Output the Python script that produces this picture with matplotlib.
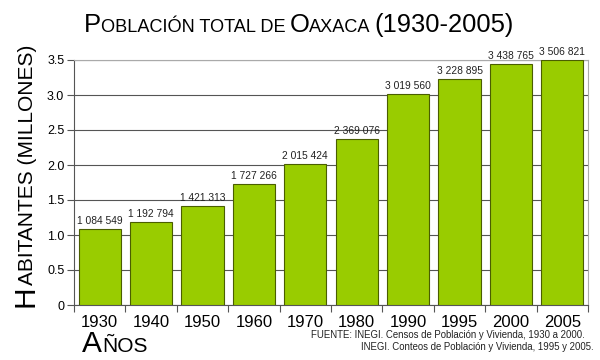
import matplotlib
matplotlib.use("Agg")
import matplotlib.pyplot as plt
import numpy as np

plt.rcParams['font.family'] = ['Liberation Sans', 'DejaVu Sans']

years = ["1930", "1940", "1950", "1960", "1970", "1980", "1990", "1995", "2000", "2005"]
population = [1084549, 1192794, 1421313, 1727266, 2015424, 2369076,
              3019560, 3228895, 3438765, 3506821]
y_ticks = [0, 0.5, 1.0, 1.5, 2.0, 2.5, 3.0, 3.5]
y_tick_labels = ["0", "0.5", "1.0", "1.5", "2.0", "2.5", "3.0", "3.5"]

W, H = 600, 360
fig = plt.figure(figsize=(6, 3.6), dpi=100)
ax = fig.add_axes([74 / W, 1 - 305 / H, (588 - 74) / W, (305 - 60) / H])

x = np.arange(len(years))
vals = np.array(population) / 1e6
ax.bar(x, vals, width=0.82, color="#99cc00", edgecolor="#4a5e00", linewidth=0.8, zorder=3)
for xi, v, p in zip(x, vals, population):
    ax.text(xi, v + 0.04, f"{p:,}".replace(",", " "), ha="center", va="bottom",
            fontsize=7.4, color="#222222", zorder=4)

ax.set_xlim(-0.5, len(years) - 0.5)
ax.set_ylim(0, 3.5)
ax.set_yticks(y_ticks)
ax.set_yticklabels(y_tick_labels, fontsize=9)
ax.yaxis.grid(True, color="#555555", linewidth=0.8, zorder=0)
ax.tick_params(axis="y", length=5, width=0.8, color="#555555", pad=2)

# x tick marks at category boundaries, labels at centres
ax.set_xticks(np.arange(len(years) + 1) - 0.5)
ax.set_xticklabels([])
ax.set_xticks(x, minor=True)
ax.set_xticklabels(years, minor=True, fontsize=12)
ax.tick_params(axis="x", which="major", length=5, width=0.8, color="#555555")
ax.tick_params(axis="x", which="minor", length=0, pad=7)

for s in ["left", "bottom"]:
    ax.spines[s].set_color("#555555")
    ax.spines[s].set_linewidth(0.8)
for s in ["top", "right"]:
    ax.spines[s].set_color("#aaaaaa")
    ax.spines[s].set_linewidth(0.8)

renderer = fig.canvas.get_renderer()


def caps_text(parts, px, py, rotation=0, center=False):
    # parts: list of (text, fontsize, gap_after_px); px, py in pixels from top-left
    def place(start):
        texts = []
        pos = start
        for s, size, gap in parts:
            if rotation == 0:
                t = fig.text(pos / W, 1 - py / H, s, fontsize=size, ha="left",
                             va="baseline", color="black")
                ext = t.get_window_extent(renderer)
                pos += ext.width + gap
            else:
                t = fig.text(px / W, 1 - pos / H, s, fontsize=size, ha="left",
                             va="baseline", rotation=90, rotation_mode="anchor",
                             color="black")
                ext = t.get_window_extent(renderer)
                pos -= ext.height + gap
            texts.append(t)
        return texts, pos

    if center:
        texts, end = place(0)
        total = end
        for t in texts:
            t.remove()
        place(px - total / 2)
    else:
        place(px if rotation == 0 else py)


caps_text([("P", 18.4, 0), ("OBLACIÓN TOTAL DE", 13.1, 4), ("O", 18.4, 0),
           ("AXACA", 13.1, 4), ("(1930-2005)", 18.4, 0)], 299, 32, center=True)
caps_text([("H", 21.5, 0), ("ABITANTES (MILLONES)", 15, 0)], 33, 307, rotation=90)
caps_text([("A", 21.5, 0), ("ÑOS", 15, 0)], 82, 352)

fig.text(311 / W, 1 - 338 / H, "FUENTE: INEGI. Censos de Población y Vivienda, 1930 a 2000.",
         fontsize=6.9, ha="left", va="baseline", color="#222222")
fig.text(361 / W, 1 - 350 / H, "INEGI. Conteos de Población y Vivienda, 1995 y 2005.",
         fontsize=6.9, ha="left", va="baseline", color="#222222")

fig.savefig("out.png", dpi=100, facecolor="white")
